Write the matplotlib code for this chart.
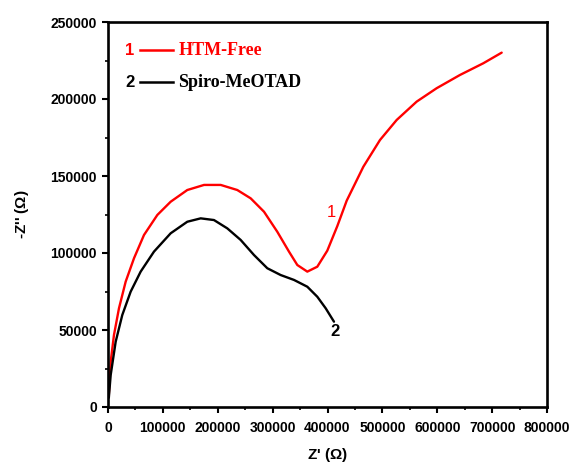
import matplotlib
matplotlib.use("Agg")
import matplotlib.pyplot as plt
from matplotlib.ticker import MultipleLocator

# Data (Z' , -Z'') in ohm
htm_free_x = [1500, 4900, 10900, 20000, 32200, 47400, 65600, 89900, 114200, 144500,
              175000, 205400, 235600, 260000, 284300, 308500, 329800, 345000, 363200,
              381400, 399600, 417900, 435000, 465300, 495700, 526100, 562500, 598900,
              641400, 683900, 717400]
htm_free_y = [8000, 29400, 46800, 64100, 81400, 96600, 111700, 124700, 133300, 140900,
              144200, 144200, 140900, 135500, 126800, 113800, 100900, 92200, 87900,
              91100, 101500, 117500, 134000, 156000, 173400, 186400, 198300, 207000,
              215600, 223200, 230100]

spiro_x = [1500, 4900, 14000, 26000, 41300, 59500, 83800, 114200, 144500, 168900,
           193100, 217400, 241700, 266000, 290300, 314600, 339000, 363200, 381400,
           396700, 411800]
spiro_y = [6000, 20800, 42400, 59700, 74900, 87900, 100900, 112800, 120300, 122500,
           121400, 116000, 108500, 98700, 90100, 85700, 82500, 78100, 71600,
           64100, 55400]

x_ticks = [0, 100000, 200000, 300000, 400000, 500000, 600000, 700000, 800000]
y_ticks = [0, 50000, 100000, 150000, 200000, 250000]
series_names = ["HTM-Free", "Spiro-MeOTAD"]
series_nums = ["1", "2"]
colors = ["#ff0000", "#000000"]

fig = plt.figure(figsize=(5.69, 4.63), dpi=100)
ax = fig.add_axes([108/569, 56/463, 439/569, 385/463])

ax.plot(htm_free_x, htm_free_y, color=colors[0], lw=1.7, solid_capstyle="round",
        solid_joinstyle="round")
ax.plot(spiro_x, spiro_y, color=colors[1], lw=1.7, solid_capstyle="round",
        solid_joinstyle="round")

ax.set_xlim(0, 800000)
ax.set_ylim(0, 250000)
ax.set_xticks(x_ticks)
ax.set_yticks(y_ticks)
ax.xaxis.set_minor_locator(MultipleLocator(50000))
ax.yaxis.set_minor_locator(MultipleLocator(25000))
ax.set_xticklabels([str(v) for v in x_ticks])
ax.set_yticklabels([str(v) for v in y_ticks])

for lab in ax.get_xticklabels() + ax.get_yticklabels():
    lab.set_fontfamily("Liberation Sans")
    lab.set_fontweight("bold")
    lab.set_fontsize(10)

ax.tick_params(which="major", direction="out", length=4, width=1.5, top=False, right=False)
ax.tick_params(which="minor", direction="out", length=2.5, width=1.2, top=False, right=False)
ax.tick_params(axis="x", which="major", pad=6)
ax.tick_params(axis="y", which="major", pad=4)
for s in ax.spines.values():
    s.set_linewidth(1.9)

ax.set_xlabel("Z' ($\\mathregular{\\Omega}$)", fontfamily="Liberation Sans", fontweight="bold",
              fontsize=11, labelpad=8)
ax.set_ylabel("-Z'' ($\\mathregular{\\Omega}$)", fontfamily="Liberation Sans", fontweight="bold",
              fontsize=11, labelpad=14)

# legend drawn manually
for i, (num, name, c) in enumerate(zip(series_nums, series_names, colors)):
    yy = 0.927 - i * 0.083
    ax.text(0.050, yy, num, transform=ax.transAxes, color=c, fontfamily="Liberation Sans",
            fontweight="bold", fontsize=12, ha="center", va="center")
    ax.plot([0.073, 0.148], [yy, yy], transform=ax.transAxes, color=c, lw=1.8)
    ax.text(0.160, yy, name, transform=ax.transAxes, color=c, fontfamily="Liberation Serif",
            fontweight="bold", fontsize=13, ha="left", va="center")

# curve labels
ax.text(0.509, 0.505, "1", transform=ax.transAxes, color=colors[0], fontfamily="Liberation Sans",
        fontsize=12, ha="center", va="center")
ax.text(0.518, 0.195, "2", transform=ax.transAxes, color=colors[1], fontfamily="Liberation Sans",
        fontweight="bold", fontsize=12, ha="center", va="center")

fig.savefig("out.png", dpi=100)
